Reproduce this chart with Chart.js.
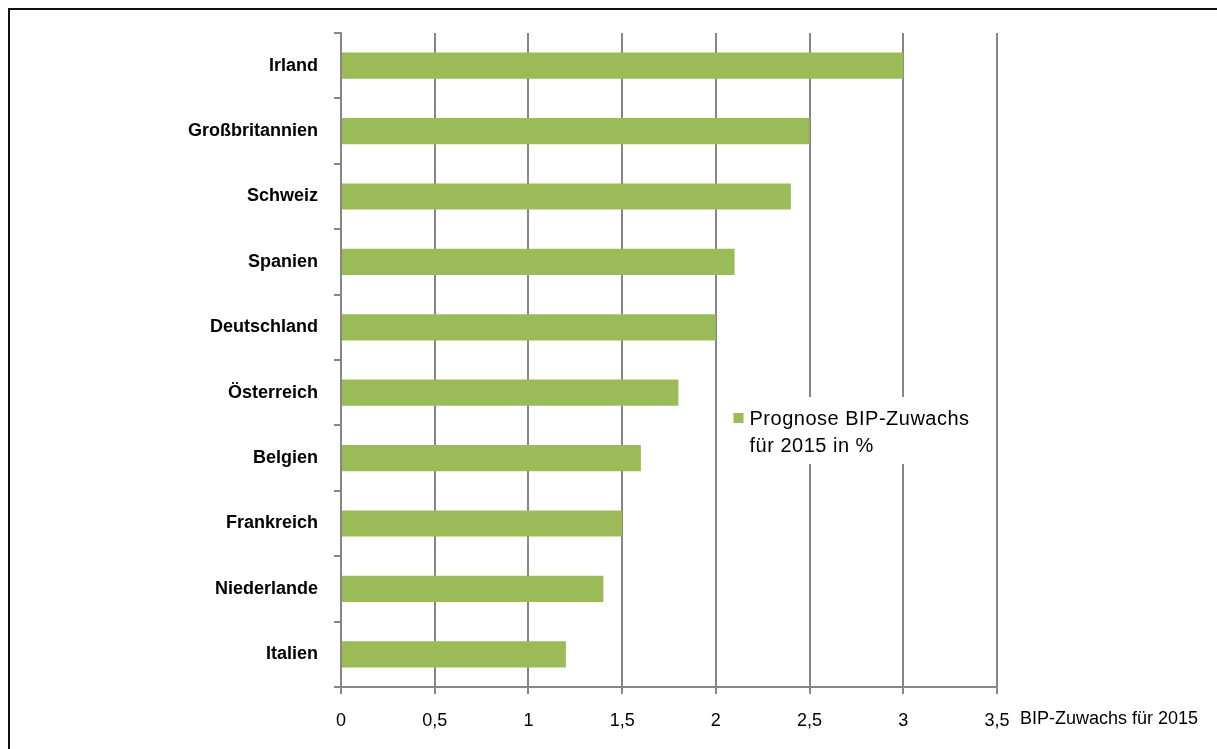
<!DOCTYPE html>
<html lang="de">
<head>
<meta charset="utf-8">
<title>Prognose BIP-Zuwachs 2015</title>
<script src="https://cdn.jsdelivr.net/npm/chart.js@4/dist/chart.umd.min.js"></script>
<style>
  html, body { margin: 0; padding: 0; background: #fff; overflow: hidden; }
  #wrap { position: relative; width: 1217px; height: 749px; }
  #frame { position: absolute; left: 8px; top: 8px; width: 1400px; height: 900px;
           border-top: 2px solid #111; border-left: 2px solid #111; box-sizing: border-box; pointer-events: none; }
  canvas { position: absolute; left: 0; top: 0; }
</style>
</head>
<body>
<div id="wrap">
  <canvas id="chart" width="1217" height="749"></canvas>
  <div id="frame"></div>
</div>
<script>
// Länder und prognostizierter BIP-Zuwachs 2015 (in %)
const countries = ['Irland', 'Großbritannien', 'Schweiz', 'Spanien', 'Deutschland',
                   'Österreich', 'Belgien', 'Frankreich', 'Niederlande', 'Italien'];
const growth2015 = [3.0, 2.5, 2.4, 2.1, 2.0, 1.8, 1.6, 1.5, 1.4, 1.2];
const seriesLabel = ['Prognose BIP-Zuwachs', 'für 2015 in %'];
const axisTitle = 'BIP-Zuwachs für 2015';
const xMin = 0, xMax = 3.5, xStep = 0.5;

const GREEN = '#9BBB59';
const GRID = '#868686';
const FONT = '"Liberation Sans", Arial, sans-serif';

// Legende innerhalb der Zeichenfläche und Achsentitel rechts neben der letzten Beschriftung
const extras = {
  id: 'extras',
  afterDraw(chart) {
    const ctx = chart.ctx;
    const area = chart.chartArea;
    const xs = chart.scales.x;
    ctx.save();
    // Legendenkasten
    const lx = area.left + (area.right - area.left) * 0.577;
    const ly = area.top + 364;
    ctx.fillStyle = '#fff';
    ctx.fillRect(lx, ly, 270, 67);
    ctx.fillStyle = chart.data.datasets[0].backgroundColor;
    ctx.fillRect(lx + 14, ly + 16, 10, 10);
    ctx.fillStyle = '#000';
    ctx.font = '20px ' + FONT;
    ctx.textBaseline = 'middle';
    ctx.textAlign = 'left';
    ctx.letterSpacing = '0.5px';
    const lines = chart.data.datasets[0].label;
    lines.forEach((t, i) => ctx.fillText(t, lx + 30, ly + 22 + i * 27));
    ctx.letterSpacing = '0px';
    // Achsentitel
    ctx.font = '18px ' + FONT;
    ctx.fillText(axisTitle, xs.right + 23, area.bottom + 32);
    ctx.restore();
  }
};

new Chart(document.getElementById('chart'), {
  type: 'bar',
  data: {
    labels: countries,
    datasets: [{
      label: seriesLabel,
      data: growth2015,
      backgroundColor: GREEN,
      borderWidth: 0,
      barPercentage: 0.4,
      categoryPercentage: 1.0
    }]
  },
  options: {
    indexAxis: 'y',
    responsive: false,
    animation: false,
    layout: { padding: { top: 33, right: 220, left: 0, bottom: 0 } },
    plugins: {
      legend: { display: false },
      tooltip: { enabled: false }
    },
    scales: {
      x: {
        min: xMin,
        max: xMax,
        ticks: {
          stepSize: xStep,
          color: '#000',
          font: { family: FONT, size: 18 },
          padding: 16,
          callback: v => String(v).replace('.', ',')
        },
        grid: { color: GRID, lineWidth: 2, tickLength: 7, drawOnChartArea: true },
        border: { color: GRID, width: 2 },
        afterFit: s => { s.height = 62; }
      },
      y: {
        ticks: {
          color: '#000',
          font: { family: FONT, size: 18, weight: 'bold' },
          padding: 16
        },
        grid: { color: GRID, lineWidth: 2, tickLength: 7, drawOnChartArea: false, offset: true },
        border: { color: GRID, width: 2 },
        afterFit: s => { s.width = 341; }
      }
    }
  },
  plugins: [extras]
});
</script>
</body>
</html>
